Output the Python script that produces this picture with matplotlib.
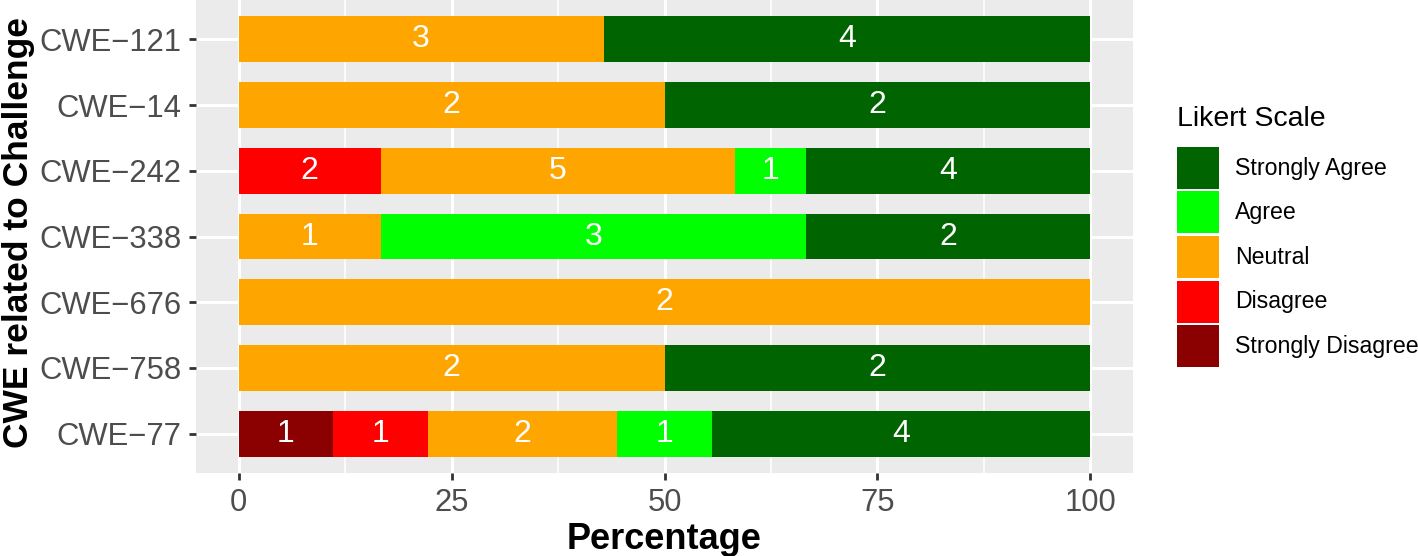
import matplotlib.pyplot as plt
from matplotlib.patches import Rectangle
import numpy as np

plt.rcParams['font.family'] = ['Liberation Sans', 'DejaVu Sans']

cwes = ['CWE−121', 'CWE−14', 'CWE−242', 'CWE−338', 'CWE−676', 'CWE−758', 'CWE−77']
levels = ['Strongly Disagree', 'Disagree', 'Neutral', 'Agree', 'Strongly Agree']
colors = ['#8B0000', '#FF0000', '#FFA500', '#00FF00', '#006400']

strongly_disagree = [0, 0, 0, 0, 0, 0, 1]
disagree = [0, 0, 2, 0, 0, 0, 1]
neutral = [3, 2, 5, 1, 2, 2, 2]
agree = [0, 0, 1, 3, 0, 0, 1]
strongly_agree = [4, 2, 4, 2, 0, 2, 4]

counts = np.array([strongly_disagree, disagree, neutral, agree, strongly_agree], dtype=float)
pct = counts / counts.sum(axis=0) * 100

fig = plt.figure(figsize=(14.18, 5.56), dpi=100)
ax = fig.add_axes([196 / 1418, 1 - 473 / 556, (1133 - 196) / 1418, 473 / 556])
ax.set_facecolor('#EBEBEB')

ypos = np.arange(len(cwes))[::-1] + 1
left = np.zeros(len(cwes))
for i, lvl in enumerate(levels):
    ax.barh(ypos, pct[i], left=left, height=0.7, color=colors[i], zorder=3)
    for j in range(len(cwes)):
        if counts[i, j] > 0:
            ax.text(left[j] + pct[i, j] / 2, ypos[j], str(int(counts[i, j])),
                    ha='center', va='center', color='white', fontsize=23, zorder=4)
    left += pct[i]

ax.set_xlim(-5, 105)
ax.set_ylim(0.4, 7.6)
ax.set_xticks([0, 25, 50, 75, 100])
ax.set_xticks([12.5, 37.5, 62.5, 87.5], minor=True)
ax.set_yticks(ypos)
ax.set_yticklabels(cwes)
ax.grid(which='major', color='white', linewidth=2.2, zorder=1)
ax.grid(which='minor', axis='x', color='white', linewidth=1.1, zorder=1)
ax.set_axisbelow(True)
for s in ax.spines.values():
    s.set_visible(False)
ax.tick_params(which='major', length=5, width=2, color='#333333', labelcolor='#4D4D4D',
               labelsize=22.3, pad=5.5)
ax.tick_params(which='minor', length=0)

ax.set_xlabel('Percentage', fontsize=26, fontweight='bold', labelpad=3)
fig.text(19 / 1418, 1 - 232 / 556, 'CWE related to Challenge', fontsize=25.5,
         fontweight='bold', rotation=90, ha='center', va='center')

# legend
fig.text(1177 / 1418, 1 - 119 / 556, 'Likert Scale', fontsize=20.5, va='center', ha='left')
for k, (lvl, col) in enumerate(zip(levels[::-1], colors[::-1])):
    top = 147 + k * 44.5
    fig.add_artist(Rectangle((1177 / 1418, 1 - (top + 42) / 556), 42 / 1418, 42 / 556,
                             transform=fig.transFigure, facecolor=col, edgecolor='none'))
    fig.text(1235 / 1418, 1 - (top + 21) / 556, lvl, fontsize=16.7, va='center', ha='left')

fig.savefig('out.png', dpi=100)
